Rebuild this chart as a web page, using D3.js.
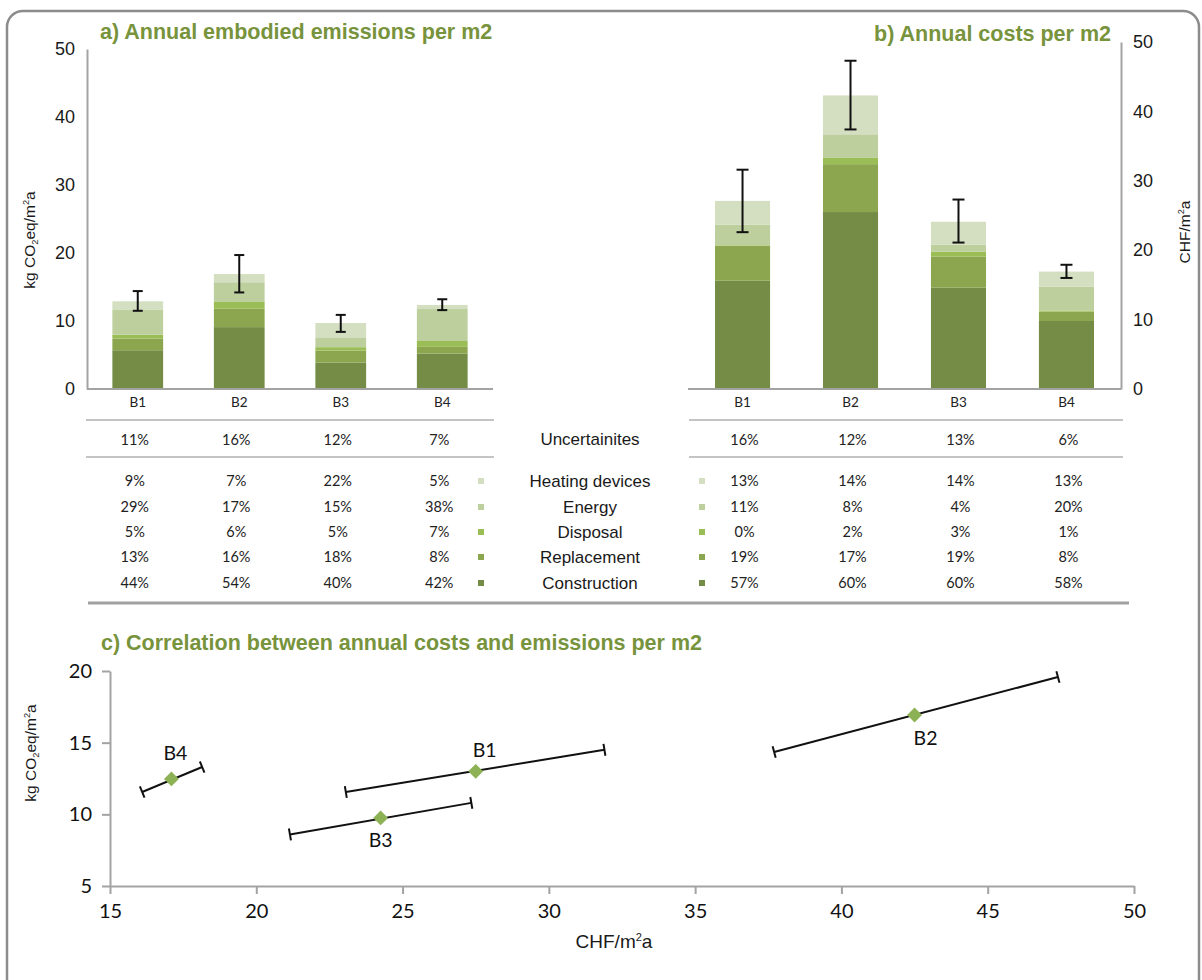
<!DOCTYPE html>
<html><head><meta charset="utf-8">
<script src="https://cdn.jsdelivr.net/npm/d3@7"></script>
<style>body{margin:0;background:#fff}svg{display:block}</style>
</head><body>
<script>
// ---------- DATA ----------
const categories = ["B1","B2","B3","B4"];
const components = ["Construction","Replacement","Disposal","Energy","Heating devices"];

const emisConstruction = [5.7, 9.1, 3.9, 5.2];
const emisReplacement  = [1.7, 2.7, 1.75, 1.0];
const emisDisposal     = [0.6, 1.0, 0.5, 0.86];
const emisEnergy       = [3.7, 2.9, 1.45, 4.7];
const emisHeating      = [1.2, 1.2, 2.1, 0.6];
const emisErrLow  = [11.5, 14.2, 8.4, 11.6];
const emisErrHigh = [14.4, 19.7, 10.9, 13.2];

const costConstruction = [15.6, 25.5, 14.6, 9.8];
const costReplacement  = [5.0, 6.9, 4.5, 1.35];
const costDisposal     = [0.1, 0.9, 0.7, 0.17];
const costEnergy       = [3.0, 3.4, 1.0, 3.4];
const costHeating      = [3.4, 5.6, 3.3, 2.2];
const costErrLow  = [22.6, 37.4, 21.1, 16.0];
const costErrHigh = [31.6, 47.3, 27.3, 17.9];

const uncertEmis = ["11%","16%","12%","7%"];
const uncertCost = ["16%","12%","13%","6%"];
const tableRows = ["Heating devices","Energy","Disposal","Replacement","Construction"];
const emisShares = [["9%","7%","22%","5%"],["29%","17%","15%","38%"],["5%","6%","5%","7%"],["13%","16%","18%","8%"],["44%","54%","40%","42%"]];
const costShares = [["13%","14%","14%","13%"],["11%","8%","4%","20%"],["0%","2%","3%","1%"],["19%","17%","19%","8%"],["57%","60%","60%","58%"]];

const scatterCost = [27.5, 42.5, 24.25, 17.1];
const scatterEmis = [13.0, 16.93, 9.75, 12.47];
const scatterCostLow  = [23.06, 37.7, 21.15, 16.1];
const scatterCostHigh = [31.9, 47.4, 27.35, 18.15];
const scatterEmisLow  = [11.56, 14.35, 8.6, 11.56];
const scatterEmisHigh = [14.5, 19.58, 10.8, 13.3];

const barTicks = [0,10,20,30,40,50];
const scatterXTicks = [15,20,25,30,35,40,45,50];
const scatterYTicks = [5,10,15,20];

// ---------- STYLE ----------
const colors = {"Construction":"#748c45","Replacement":"#8ba64e","Disposal":"#9bbd55","Energy":"#bccf9d","Heating devices":"#d3dfc0"};
const green = "#77933c";
const axisCol = "#a3a3a3";
const ARIAL = "'Liberation Sans', Arial, sans-serif";
const CAL = "Lato, 'Open Sans', sans-serif";

const W = 1202, H = 980;
const svg = d3.select("body").append("svg").attr("width", W).attr("height", H);

// frame
svg.append("rect").attr("x",7).attr("y",11).attr("width",1192).attr("height",1000)
  .attr("rx",16).attr("fill","none").attr("stroke","#8c8c8c").attr("stroke-width",2.5);

function stackData(arrs){
  return categories.map((c,i)=>{
    const o={cat:c}; components.forEach((k,j)=>o[k]=arrs[j][i]); return o;
  });
}

function barChart(opts){
  const {xRange, yRange, arrs, lo, hi, axisX, labelsSide, inner, outer, capW} = opts;
  const x = d3.scaleBand().domain(categories).range(xRange).paddingInner(inner).paddingOuter(outer);
  const y = d3.scaleLinear().domain([0,50]).range(yRange);
  const series = d3.stack().keys(components)(stackData(arrs));
  const g = svg.append("g");
  g.selectAll("g.s").data(series).join("g").attr("fill", d=>colors[d.key])
    .selectAll("rect").data(d=>d).join("rect")
    .attr("x", d=>x(d.data.cat)).attr("width", x.bandwidth())
    .attr("y", d=>y(d[1])).attr("height", d=>y(d[0])-y(d[1]));
  categories.forEach((c,i)=>{
    const cx = x(c)+x.bandwidth()/2;
    g.append("line").attr("x1",cx).attr("x2",cx).attr("y1",y(lo[i])).attr("y2",y(hi[i])).attr("stroke","#111").attr("stroke-width",2);
    [lo[i],hi[i]].forEach(v=>g.append("line").attr("x1",cx-capW/2).attr("x2",cx+capW/2).attr("y1",y(v)).attr("y2",y(v)).attr("stroke","#111").attr("stroke-width",2));
  });
  g.append("line").attr("x1",xRange[0]).attr("x2",xRange[1]).attr("y1",y(0)).attr("y2",y(0)).attr("stroke",axisCol).attr("stroke-width",2);
  const yAx = (labelsSide==="left"? d3.axisLeft(y):d3.axisRight(y)).tickValues(barTicks).tickSize(0).tickPadding(12);
  const ag = g.append("g").attr("transform",`translate(${axisX},0)`).call(yAx);
  ag.select(".domain").attr("stroke",axisCol).attr("stroke-width",2);
  ag.selectAll("text").attr("font-family",ARIAL).attr("font-size",18).attr("fill","#1a1a1a");
  const xa = g.append("g").attr("transform",`translate(0,${y(0)})`).call(d3.axisBottom(x).tickSize(0).tickPadding(8));
  xa.select(".domain").remove();
  xa.selectAll("text").attr("font-family",CAL).attr("font-size",13.5).attr("fill","#222");
  return x;
}

const xL = barChart({xRange:[87,493], yRange:[389,49], axisX:87, labelsSide:"left",
  arrs:[emisConstruction,emisReplacement,emisDisposal,emisEnergy,emisHeating], lo:emisErrLow, hi:emisErrHigh, inner:0.5, outer:0.25, capW:10});
const xR = barChart({xRange:[688,1121], yRange:[389,42], axisX:1121, labelsSide:"right",
  arrs:[costConstruction,costReplacement,costDisposal,costEnergy,costHeating], lo:costErrLow, hi:costErrHigh, inner:0.49, outer:0.25, capW:12});

// titles
svg.append("text").attr("x",100).attr("y",39).attr("font-family",ARIAL).attr("font-weight","bold").attr("font-size",21.5).attr("fill",green).text("a) Annual embodied emissions per m2");
svg.append("text").attr("x",1111).attr("y",41).attr("text-anchor","end").attr("font-family",ARIAL).attr("font-weight","bold").attr("font-size",21.5).attr("fill",green).text("b) Annual costs per m2");

function yTitle(x, yc, parts, size){
  const t = svg.append("text").attr("transform",`translate(${x},${yc}) rotate(-90)`).attr("text-anchor","middle")
    .attr("font-family",ARIAL).attr("font-size",size).attr("fill","#1a1a1a");
  parts.forEach(p=>{
    const ts = t.append("tspan").text(p[0]);
    if(p[1]==="sub") ts.attr("font-size",size*0.6).attr("dy",3);
    else if(p[1]==="sup") ts.attr("font-size",size*0.6).attr("dy",-6);
    else if(p[1]==="back") ts.attr("dy",-3);
    else if(p[1]==="back2") ts.attr("dy",6);
  });
  return t;
}
yTitle(35, 240, [["kg CO"],["2","sub"],["eq/m","back"],["2","sup"],["a","back2"]], 15.5);
yTitle(1190, 232, [["CHF/m"],["2","sup"],["a","back2"]], 15.5);

// ---------- TABLE ----------
const line = (x1,x2,y,w,c)=>svg.append("line").attr("x1",x1).attr("x2",x2).attr("y1",y).attr("y2",y).attr("stroke",c).attr("stroke-width",w);
line(86,494,420,1.5,"#b0b0b0"); line(86,494,457,1.5,"#b0b0b0");
line(689,1123,420,1.5,"#b0b0b0"); line(689,1123,457,1.5,"#b0b0b0");
line(88,1129,603,3,"#a0a0a0");

const rowY = [481,507,532,557,583];
const colL = categories.map(c=>xL(c)+xL.bandwidth()/2-3);
const colR = categories.map(c=>xR(c)+xR.bandwidth()/2+2);
const pct = (x,y,t)=>svg.append("text").attr("x",x).attr("y",y).attr("dy","0.35em").attr("text-anchor","middle")
  .attr("font-family",CAL).attr("font-size",14.5).attr("fill","#222").text(t);
categories.forEach((c,i)=>{ pct(colL[i],440,uncertEmis[i]); pct(colR[i],440,uncertCost[i]); });
tableRows.forEach((r,j)=>{
  categories.forEach((c,i)=>{ pct(colL[i],rowY[j],emisShares[j][i]); pct(colR[i],rowY[j],costShares[j][i]); });
  [481,702].forEach(mx=>svg.append("rect").attr("x",mx-3).attr("y",rowY[j]-3).attr("width",6).attr("height",6).attr("fill",colors[r]));
  svg.append("text").attr("x",590).attr("y",rowY[j]).attr("dy","0.35em").attr("text-anchor","middle")
    .attr("font-family",ARIAL).attr("font-size",17).attr("fill","#1a1a1a").text(r);
});
svg.append("text").attr("x",590).attr("y",439).attr("dy","0.35em").attr("text-anchor","middle")
  .attr("font-family",ARIAL).attr("font-size",17).attr("fill","#1a1a1a").text("Uncertainites");

// ---------- SCATTER ----------
svg.append("text").attr("x",101).attr("y",650).attr("font-family",ARIAL).attr("font-weight","bold").attr("font-size",21.5).attr("fill",green).text("c) Correlation between annual costs and emissions per m2");
const xs = d3.scaleLinear().domain([15,50]).range([110,1134]);
const ys = d3.scaleLinear().domain([5,20]).range([886,671]);
const gx = svg.append("g").attr("transform","translate(0,886)").call(d3.axisBottom(xs).tickValues(scatterXTicks).tickSize(8).tickPadding(10).tickSizeOuter(0));
const gy = svg.append("g").attr("transform","translate(110,0)").call(d3.axisLeft(ys).tickValues(scatterYTicks).tickSize(8).tickPadding(10).tickSizeOuter(0));
[gx,gy].forEach(g=>{
  g.selectAll(".domain,line").attr("stroke",axisCol).attr("stroke-width",2);
  g.selectAll("text").attr("font-family",CAL).attr("font-size",20).attr("fill","#111");
});
svg.append("text").attr("x",614).attr("y",948).attr("text-anchor","middle").attr("font-family",ARIAL).attr("font-size",19).attr("fill","#1a1a1a")
  .call(t=>{t.append("tspan").text("CHF/m"); t.append("tspan").attr("font-size",11).attr("dy",-7).text("2"); t.append("tspan").attr("dy",7).text("a");});
yTitle(36, 753, [["kg CO"],["2","sub"],["eq/m","back"],["2","sup"],["a","back2"]], 15.5);

const labelPlace = [{dx:9,dy:-21},{dx:11,dy:23},{dx:0,dy:22},{dx:4,dy:-26}];
categories.forEach((c,i)=>{
  const x1=xs(scatterCostLow[i]), y1=ys(scatterEmisLow[i]), x2=xs(scatterCostHigh[i]), y2=ys(scatterEmisHigh[i]);
  svg.append("line").attr("x1",x1).attr("y1",y1).attr("x2",x2).attr("y2",y2).attr("stroke","#111").attr("stroke-width",2);
  const len = Math.hypot(x2-x1,y2-y1), nx=-(y2-y1)/len*6, ny=(x2-x1)/len*6;
  [[x1,y1],[x2,y2]].forEach(([px,py])=>svg.append("line").attr("x1",px-nx).attr("y1",py-ny).attr("x2",px+nx).attr("y2",py+ny).attr("stroke","#111").attr("stroke-width",2));
  const px = xs(scatterCost[i]), py = ys(scatterEmis[i]);
  svg.append("path").attr("d",d3.symbol(d3.symbolSquare,110)()).attr("transform",`translate(${px},${py}) rotate(45)`).attr("fill","#8db255");
  svg.append("text").attr("x",px+labelPlace[i].dx).attr("y",py+labelPlace[i].dy).attr("dy","0.35em").attr("text-anchor","middle")
    .attr("font-family",CAL).attr("font-size",19.5).attr("fill","#111").text(c);
});
</script>
</body></html>
